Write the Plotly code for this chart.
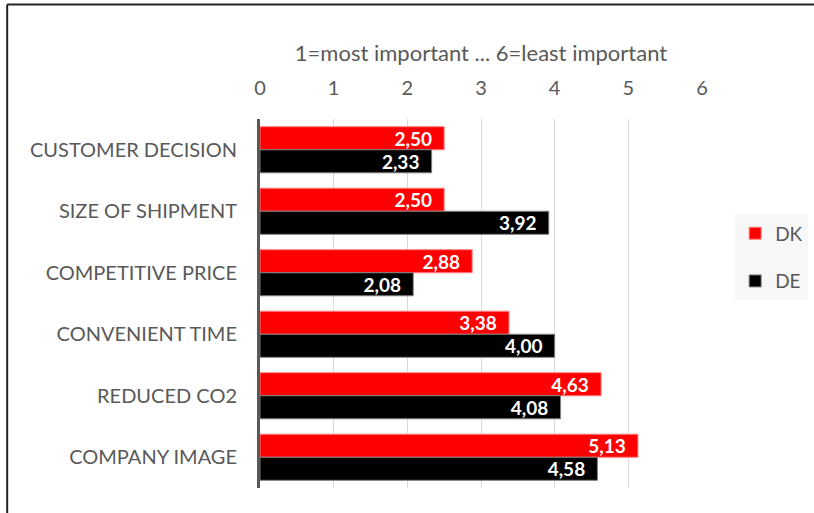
import plotly.graph_objects as go

categories = ["CUSTOMER DECISION", "SIZE OF SHIPMENT", "COMPETITIVE PRICE",
              "CONVENIENT TIME", "REDUCED CO2", "COMPANY IMAGE"]
dk_values = [2.50, 2.50, 2.88, 3.38, 4.63, 5.13]
de_values = [2.33, 3.92, 2.08, 4.00, 4.08, 4.58]
tick_vals = [0, 1, 2, 3, 4, 5, 6]
axis_title = "1=most important ... 6=least important"

FONT = "Lato, Carlito, Calibri, sans-serif"
PAD = "\u00a0\u00a0"

def fmt(v):
    return f"{v:.2f}".replace(".", ",") + PAD

fig = go.Figure()
fig.add_trace(go.Bar(
    y=categories, x=dk_values, name="DK", orientation="h",
    marker=dict(color="#ff0000", line=dict(color="#ff8080", width=1)),
    text=[fmt(v) for v in dk_values], textposition="inside",
    insidetextanchor="end", constraintext="none",
    textfont=dict(color="white", size=19, family=FONT, weight="bold"),
    legendgroup="dk",
))
fig.add_trace(go.Bar(
    y=categories, x=de_values, name="DE", orientation="h",
    marker=dict(color="#000000", line=dict(color="#7f7f7f", width=1)),
    text=[fmt(v) for v in de_values], textposition="inside",
    insidetextanchor="end", constraintext="none",
    textfont=dict(color="white", size=19, family=FONT, weight="bold"),
    legendgroup="de",
))

fig.update_layout(
    width=814, height=513,
    margin=dict(l=260, r=112, t=119, b=25, autoexpand=False),
    paper_bgcolor="white", plot_bgcolor="white",
    barmode="group", bargap=0.25, bargroupgap=0.0,
    font=dict(family=FONT, color="#595959", size=18),
    xaxis=dict(
        side="top", range=[0, 6], tickvals=tick_vals,
        showgrid=True, gridcolor="#d9d9d9", gridwidth=1,
        zeroline=False, showline=False, automargin=False,
        tickfont=dict(size=20, color="#595959"),
        ticks="", ticklabelstandoff=19,
        title=dict(text=axis_title, font=dict(size=22, color="#595959"), standoff=7),
    ),
    yaxis=dict(
        autorange="reversed", showgrid=False, automargin=False,
        showline=True, linecolor="#595959", linewidth=3,
        tickfont=dict(size=20, color="#595959"),
        ticks="", ticklabelstandoff=16,
    ),
    legend=dict(
        x=1.075, y=0.625, xanchor="left", yanchor="middle",
        bgcolor="#f7f7f7", borderwidth=0,
        font=dict(size=19, color="#595959"),
        tracegroupgap=20, traceorder="grouped",
        itemwidth=30,
    ),
    showlegend=True,
)

# outer chart border (left and top edges visible in the reference)
fig.add_shape(type="line", xref="paper", yref="paper",
              x0=-0.572, x1=-0.572, y0=-0.2, y1=1.31,
              line=dict(color="#222222", width=2), layer="above")
fig.add_shape(type="line", xref="paper", yref="paper",
              x0=-0.572, x1=1.3, y0=1.31, y1=1.31,
              line=dict(color="#222222", width=2), layer="above")

fig.write_html("out.html", config={"displayModeBar": False},
               post_script="document.body.style.margin='0';document.body.style.padding='0';")
